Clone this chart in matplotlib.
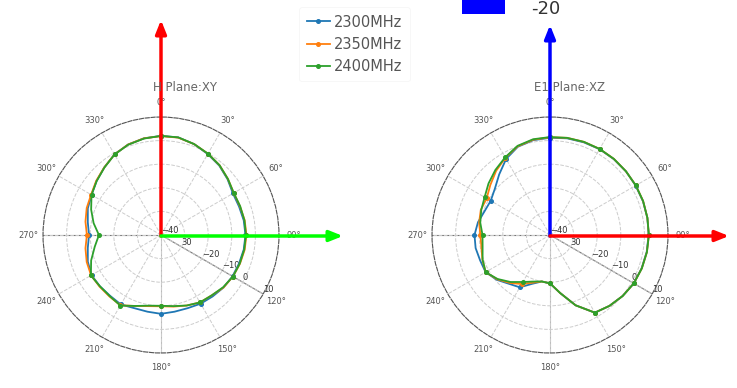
import numpy as np
import matplotlib.pyplot as plt
from matplotlib.patches import Rectangle

# angles every 10 degrees (0..350), values in dB
angles = list(range(0, 360, 10))
freqs = ["2300MHz", "2350MHz", "2400MHz"]
colors = ["#1f77b4", "#ff7f0e", "#2ca02c"]

h_2300 = [2.0, 2.0, 1.0, -0.4, -1.6, -3.2, -4.8, -4.8, -4.4, -4.2, -4.4, -4.8,
          -5.0, -5.4, -6.0, -6.4, -7.0, -7.0, -6.6, -7.0, -7.0, -6.0, -6.4, -6.2,
          -6.0, -7.0, -8.5, -9.5, -8.5, -7.0, -6.0, -4.4, -2.6, -0.6, 0.8, 1.6]
h_2350 = [1.9, 1.9, 1.0, -0.2, -1.4, -3.0, -4.4, -4.4, -4.0, -3.8, -4.0, -4.4,
          -4.8, -5.4, -6.6, -7.0, -8.2, -9.2, -9.8, -9.4, -8.0, -5.6, -6.0, -6.0,
          -5.8, -6.5, -7.5, -8.6, -7.5, -6.5, -5.8, -4.2, -2.6, -0.6, 0.8, 1.6]
h_2400 = [2.0, 2.0, 1.0, -0.2, -1.4, -3.0, -4.4, -4.3, -4.1, -4.0, -4.2, -4.5,
          -4.8, -5.6, -6.6, -7.0, -8.2, -9.4, -10.0, -9.6, -8.0, -5.5, -6.2, -6.2,
          -5.7, -8.5, -11.5, -13.7, -11.0, -8.5, -6.0, -4.4, -2.7, -0.6, 0.7, 1.5]

e_2300 = [1.2, 1.6, 1.8, 2.0, 2.0, 2.0, 1.9, 1.9, 1.9, 1.8, 1.6, 1.3,
          1.0, 0.2, -0.8, -2.0, -8.3, -15.0, -19.5, -20.0, -18.0, -14.4, -13.0, -10.5,
          -8.5, -8.5, -8.0, -8.0, -9.0, -10.5, -11.0, -9.5, -6.5, -2.8, -0.2, 0.8]
e_2350 = [1.4, 1.8, 2.0, 2.1, 2.1, 2.0, 2.0, 2.0, 1.9, 1.9, 1.7, 1.4,
          1.0, 0.2, -0.8, -2.0, -8.3, -15.0, -19.5, -20.0, -18.5, -16.0, -13.5, -10.8,
          -8.5, -9.5, -10.5, -10.5, -9.5, -8.8, -9.0, -7.0, -4.5, -2.2, 0.0, 1.0]
e_2400 = [1.5, 1.8, 2.0, 2.1, 2.1, 2.0, 2.0, 2.0, 1.9, 1.9, 1.7, 1.4,
          1.0, 0.2, -0.8, -2.0, -8.3, -15.0, -19.5, -20.0, -19.0, -17.0, -14.0, -11.0,
          -8.5, -9.6, -11.0, -11.4, -10.0, -9.0, -8.0, -6.0, -4.0, -2.0, 0.2, 1.2]

h_data = [h_2300, h_2350, h_2400]
e_data = [e_2300, e_2350, e_2400]

plt.rcParams['font.family'] = ['DejaVu Sans']
fig = plt.figure(figsize=(7.37, 3.88), dpi=100)


def polar_panel(rect, series, title, title_x):
    ax = fig.add_axes(rect, projection='polar')
    ax.set_theta_zero_location('N')
    ax.set_theta_direction(-1)
    ax.set_ylim(-40, 10)
    ax.set_yticks([-40, -30, -20, -10, 0, 10])
    ax.set_yticklabels(['\u221240', '30', '\u221220', '\u221210', '0', '10'])
    ax.set_rlabel_position(120)
    ax.set_xticks(np.radians(np.arange(0, 360, 30)))
    ax.set_xticklabels([f"{a}\u00b0" for a in range(0, 360, 30)])
    ax.tick_params(axis='x', labelsize=6, labelcolor='#555555', pad=0)
    ax.tick_params(axis='y', labelsize=6, labelcolor='#333333')
    ax.grid(True, color='#cccccc', linestyle='--', linewidth=0.7)
    ax.spines['polar'].set_linestyle('--')
    ax.spines['polar'].set_color('#555555')
    ax.spines['polar'].set_linewidth(0.8)
    # axis lines through the centre
    for a, c in ((0, '#bbbbbb'), (180, '#bbbbbb'), (90, '#777777'), (270, '#777777'), (120, '#777777')):
        ax.plot([np.radians(a), np.radians(a)], [-40, 10], color=c, lw=0.8, zorder=1)
    th = np.radians(angles + [360])
    lines = []
    for vals, c, lab in zip(series, colors, freqs):
        ln, = ax.plot(th, vals + [vals[0]], color=c, lw=1.3, marker='o', ms=2.6,
                      markevery=3, label=lab, zorder=3)
        lines.append(ln)
    fig.text(title_x, 0.775, title, ha='center', va='center', fontsize=8.5, color='#666666')
    return ax, lines


ax1, handles = polar_panel([43 / 737, 35 / 388, 236 / 737, 236 / 388], h_data,
                           "H Plane:XY", 185 / 737)
ax2, _ = polar_panel([432 / 737, 35 / 388, 236 / 737, 236 / 388], e_data,
                     "E1 Plane:XZ", 569 / 737)

leg = fig.legend(handles=handles, loc='upper left', bbox_to_anchor=(292 / 737, 1.0),
                 fontsize=10.5, frameon=True, handlelength=1.6, labelspacing=0.5,
                 borderpad=0.5, handletextpad=0.3)
leg.get_frame().set_edgecolor('#f4f4f4')
leg.get_frame().set_linewidth(0.6)
for t in leg.get_texts():
    t.set_color('#555555')

# cut-off colour key at the top
fig.patches.append(Rectangle((462 / 737, 1 - 14 / 388), 43 / 737, 16 / 388,
                             transform=fig.transFigure, facecolor='#0000ff',
                             edgecolor='none', zorder=5))
fig.text(546 / 737, 1 - 9 / 388, "-20", ha='center', va='center', fontsize=13, color='#333333')

# coordinate arrows overlay
ov = fig.add_axes([0, 0, 1, 1], facecolor='none')
ov.set_xlim(0, 737)
ov.set_ylim(388, 0)
ov.axis('off')
arrows = [((161, 236), (161, 20), '#ff0000'),
          ((161, 236), (343, 236), '#00ff00'),
          ((550, 236), (550, 25), '#0000ff'),
          ((550, 236), (729, 236), '#ff0000')]
for start, end, c in arrows:
    ov.annotate('', xy=end, xytext=start,
                arrowprops=dict(arrowstyle='-|>,head_length=0.8,head_width=0.32',
                                color=c, lw=2.5, shrinkA=0, shrinkB=0))

fig.savefig('out.png', dpi=100)
